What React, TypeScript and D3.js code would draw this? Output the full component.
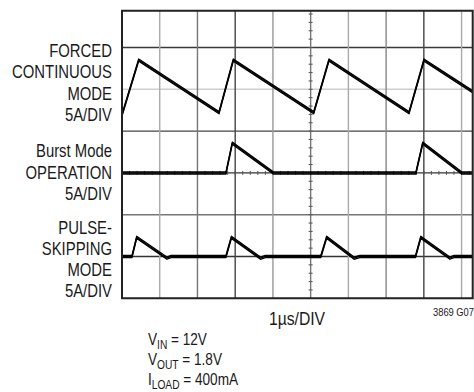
import React from 'react';
import * as d3 from 'd3';

// Time axis: 1µs/DIV, 10 divisions (picture cropped on the right)
const timeDivs = d3.range(1, 10);
// Vertical divisions (bottom = 0)
const ampDivs = [1, 2, 3, 4, 5, 6];

// Channel traces: time (µs) and current (A), 5A/DIV
const fcmT = [0, 0.443, 2.571, 2.95, 5.081, 5.486, 7.607, 8.004, 9.3];
const fcmA = [-3.07, 3.5, -2.8, 3.5, -2.8, 3.5, -2.8, 3.5, -0.3];
const burstT = [0, 2.756, 2.923, 4.01, 7.79, 7.97, 9.0, 9.3];
const burstA = [0, 0, 3.55, 0, 0, 3.55, 0, 0];
const pskipT = [0, 0.265, 0.39, 1.19, 1.3, 2.756, 2.9, 3.67, 3.8, 5.27, 5.425, 6.15, 6.3, 7.78, 7.92, 8.69, 8.8, 9.3];
const pskipA = [0, 0, 2.3, -0.2, 0, 0, 2.3, -0.2, 0, 0, 2.3, -0.2, 0, 0, 2.3, -0.2, 0, 0];

const labelsFcm = ['FORCED', 'CONTINUOUS', 'MODE', '5A/DIV'];
const labelsBurst = ['Burst Mode', 'OPERATION', '5A/DIV'];
const labelsPskip = ['PULSE-', 'SKIPPING', 'MODE', '5A/DIV'];
const xLabel = '1µs/DIV';
const figId = '3869 G07';

const FONT = "'Liberation Sans', Arial, sans-serif";
const SX = 0.85;

function Txt({ x, y, size, anchor = 'start', children }: any) {
  return (
    <g transform={`translate(${x},${y}) scale(${SX},1)`}>
      <text x={0} y={0} textAnchor={anchor} fontSize={size} fontFamily={FONT} fill="#1a1a1a">{children}</text>
    </g>
  );
}

export default function App() {
  const left = 122, bottom = 298.3, divW = 37.73, divH = 41.8;
  const plotRight = 472.7, plotTop = 10.7;
  const x = d3.scaleLinear().domain([0, 10]).range([left, left + 10 * divW]);
  const y = d3.scaleLinear().domain([0, 7]).range([bottom, bottom - 7 * divH]);
  const ampPerDiv = 5;

  const hStroke: Record<number, string> = { 1: '#333', 2: '#777', 3: '#333', 4: '#444', 5: '#cfcfcf', 6: '#3a3a3a' };
  const vStroke: Record<number, string> = { 1: '#aaa', 2: '#777', 3: '#444', 4: '#999', 5: '#777', 6: '#aaa', 7: '#888', 8: '#444', 9: '#aaa' };

  const mk = (ts: number[], as: number[], zero: number) =>
    d3.line<number>()
      .x((_, i) => x(ts[i]))
      .y((_, i) => y(zero + as[i] / ampPerDiv))(ts) as string;

  const traces = [
    mk(fcmT, fcmA, 5),
    mk(burstT, burstA, 3),
    mk(pskipT, pskipA, 1),
  ];

  const minor = d3.range(0, 10 * 5 + 1).map((i) => i / 5);
  const minorV = d3.range(0, 7 * 5 + 1).map((i) => i / 5);

  const labelBlock = (lines: string[], baselines: number[]) =>
    lines.map((t, i) => (
      <Txt key={t + i} x={112} y={baselines[i]} size={17.5} anchor="end">{t}</Txt>
    ));

  return (
    <svg width={474} height={392} style={{ position: 'absolute', left: 0, top: 0, background: '#fff' }}>
      <defs>
        <clipPath id="plot">
          <rect x={left} y={plotTop} width={plotRight - left} height={bottom - plotTop} />
        </clipPath>
      </defs>
      <g clipPath="url(#plot)">
        {ampDivs.map((d) => (
          <line key={'h' + d} x1={left} x2={plotRight} y1={y(d)} y2={y(d)} stroke={hStroke[d]} strokeWidth={1.4} />
        ))}
        {timeDivs.map((d) => (
          <line key={'v' + d} x1={x(d)} x2={x(d)} y1={plotTop} y2={bottom} stroke={vStroke[d]} strokeWidth={1.4} />
        ))}
        {minorV.map((d) => (
          <line key={'tv' + d} x1={x(5) - 2} x2={x(5) + 2} y1={y(d)} y2={y(d)} stroke="#555" strokeWidth={1} />
        ))}
        {minor.map((d) => (
          <line key={'th' + d} x1={x(d)} x2={x(d)} y1={y(3) - 2} y2={y(3) + 2} stroke="#555" strokeWidth={1} />
        ))}
        {traces.map((p, i) => (
          <g key={'tr' + i} fill="none" stroke="#000" strokeWidth={1.3} strokeLinejoin="round">
            <path d={p} transform="translate(0,-1.1)" />
            <path d={p} />
            <path d={p} transform="translate(0,1.1)" />
          </g>
        ))}
      </g>
      <path d={`M${plotRight},${plotTop} H${left} V${bottom} H${plotRight} Z`} fill="none" stroke="#222" strokeWidth={2} />

      {labelBlock(labelsFcm, [57, 78, 99.5, 121])}
      {labelBlock(labelsBurst, [157, 179, 199.5])}
      {labelBlock(labelsPskip, [233.5, 255, 275.5, 297])}

      <Txt x={297} y={325} size={18.5} anchor="middle">{xLabel}</Txt>
      <Txt x={474} y={316} size={11} anchor="end">{figId}</Txt>

      <Txt x={148} y={345} size={16}>
        V<tspan fontSize={12} dy={4}>IN</tspan><tspan dy={-4}> = 12V</tspan>
      </Txt>
      <Txt x={148} y={365} size={16}>
        V<tspan fontSize={12} dy={4}>OUT</tspan><tspan dy={-4}> = 1.8V</tspan>
      </Txt>
      <Txt x={148} y={385} size={16}>
        I<tspan fontSize={12} dy={4}>LOAD</tspan><tspan dy={-4}> = 400mA</tspan>
      </Txt>
    </svg>
  );
}
